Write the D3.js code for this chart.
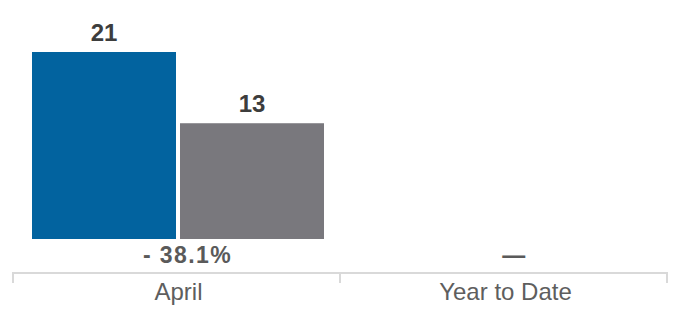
<!DOCTYPE html>
<html>
<head>
<meta charset="utf-8">
<script src="https://cdn.jsdelivr.net/npm/d3@7"></script>
<style>
  html, body { margin: 0; padding: 0; background: #fff; }
  svg { display: block; font-family: "Liberation Sans", Arial, Helvetica, sans-serif; }
</style>
</head>
<body>
<svg id="chart" width="673" height="310"></svg>
<script>
const categories = ["April", "Year to Date"];
const seriesNames = ["Current", "Prior"];
const currentValues = [21, null];
const priorValues = [13, null];
const changeLabels = ["- 38.1%", "\u2014"];
const seriesColors = ["#02639f", "#79787d"];

const svg = d3.select("#chart");
const baseY = 239, axisY = 273;

const x0 = d3.scaleBand().domain(categories).range([13, 667]).paddingInner(0).paddingOuter(0);
const x1 = d3.scaleBand().domain(seriesNames).range([19, 311]).paddingInner(4 / 148).paddingOuter(0);
const y = d3.scaleLinear().domain([0, 21]).range([baseY, 52]);

const rows = categories.map((c, i) => ({
  cat: c,
  vals: [
    { s: seriesNames[0], v: currentValues[i], color: seriesColors[0] },
    { s: seriesNames[1], v: priorValues[i], color: seriesColors[1] }
  ],
  change: changeLabels[i]
}));

const g = svg.selectAll("g.cat").data(rows).join("g")
  .attr("class", "cat")
  .attr("transform", d => `translate(${x0(d.cat)},0)`);

const bars = g.selectAll("g.bar").data(d => d.vals.filter(v => v.v != null)).join("g").attr("class", "bar");
bars.append("rect")
  .attr("x", d => x1(d.s))
  .attr("width", x1.bandwidth())
  .attr("y", d => y(d.v))
  .attr("height", d => baseY - y(d.v))
  .attr("fill", d => d.color);
bars.append("text")
  .attr("x", d => x1(d.s) + x1.bandwidth() / 2)
  .attr("y", d => y(d.v) - 11)
  .attr("text-anchor", "middle")
  .attr("font-size", 24)
  .attr("font-weight", "bold")
  .attr("fill", "#3d3d3d")
  .text(d => d.v);

g.append("text")
  .attr("x", x0.bandwidth() / 2 + 11)
  .attr("y", 263)
  .attr("text-anchor", "middle")
  .attr("font-size", 23)
  .attr("font-weight", "bold")
  .attr("letter-spacing", 1.4)
  .attr("fill", "#5a5a5a")
  .text(d => d.change);

// axis
const axis = d3.axisBottom(x0).tickSize(0).tickPadding(0);
const ax = svg.append("g").attr("transform", `translate(0,${axisY})`).call(axis);
ax.select(".domain").remove();
ax.selectAll(".tick text").remove();
ax.append("line").attr("x1", 13).attr("x2", 667).attr("stroke", "#d9d9d9").attr("stroke-width", 2);
const boundaries = [x0.range()[0], ...categories.slice(1).map(c => x0(c)), x0.range()[1]];
ax.selectAll("line.sep").data(boundaries).join("line")
  .attr("class", "sep")
  .attr("x1", d => d).attr("x2", d => d)
  .attr("y1", -1).attr("y2", 10)
  .attr("stroke", "#d9d9d9").attr("stroke-width", 2);
ax.selectAll("text.cat").data(categories).join("text")
  .attr("class", "cat")
  .attr("x", d => x0(d) + x0.bandwidth() / 2 + 2)
  .attr("y", 27)
  .attr("text-anchor", "middle")
  .attr("font-size", 24)
  .attr("fill", "#5e5e5e")
  .text(d => d);
</script>
</body>
</html>
